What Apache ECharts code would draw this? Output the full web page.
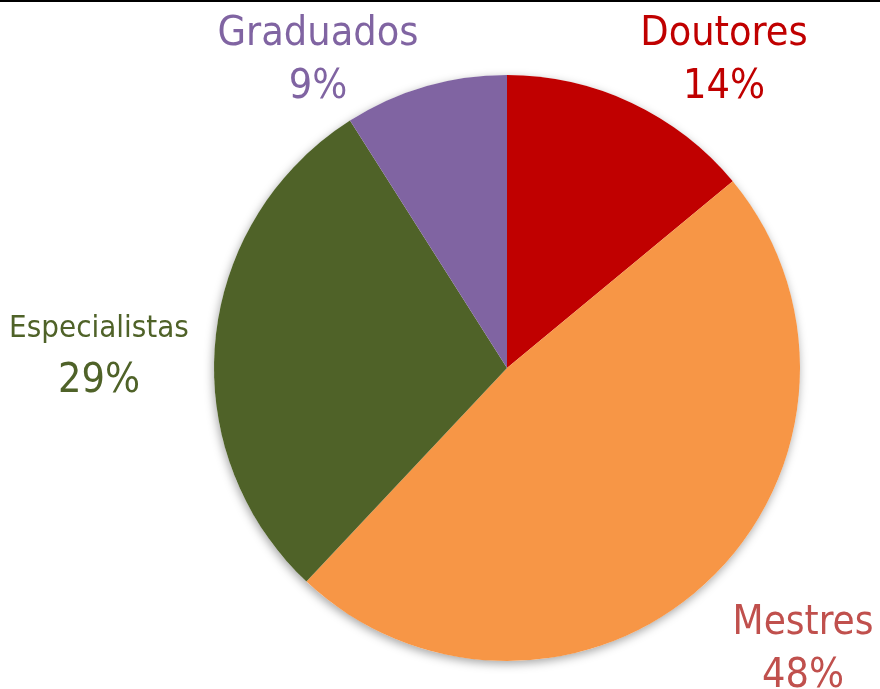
<!DOCTYPE html>
<html>
<head>
    <meta charset="UTF-8">
    <title>Titulação</title>
    <style>
        html, body { margin: 0; padding: 0; background: #fff; }
        #chart { width: 880px; height: 689px; }
    </style>
    <script src="https://cdn.jsdelivr.net/npm/echarts@6/dist/echarts.min.js"></script>
</head>
<body>
<div id="chart"></div>
<script type="text/javascript">
    // dados do gráfico
    var categorias = ['Doutores', 'Mestres', 'Especialistas', 'Graduados'];
    var valores = [14, 48, 29, 9];
    var cores = ['#C00000', '#F79646', '#4F6228', '#8064A2'];
    var coresRotulo = ['#C00000', '#C0504D', '#4F6228', '#8064A2'];

    // posição dos rótulos (centro do texto)
    var posRotulo = [[724, 61], [803, 650], [99, 355], [318, 61]];
    var tamNome = [41, 40, 31, 41];
    var fonte = "'Liberation Sans Narrow', 'Arial Narrow', 'DejaVu Sans Condensed', sans-serif";

    var dados = [];
    for (var i = 0; i < categorias.length; i++) {
        dados.push({
            name: categorias[i],
            value: valores[i],
            itemStyle: { color: cores[i] },
            label: {
                rich: {
                    n: { fontSize: tamNome[i], color: coresRotulo[i], fontFamily: fonte, lineHeight: 53, align: 'center' },
                    p: { fontSize: 41, color: coresRotulo[i], fontFamily: fonte, lineHeight: 53, align: 'center' }
                }
            }
        });
    }

    var myChart = echarts.init(document.getElementById('chart'));

    var option = {
        backgroundColor: '#fff',
        animation: false,
        graphic: [{
            type: 'rect',
            shape: { x: 0, y: 0, width: 880, height: 2 },
            style: { fill: '#000' }
        }],
        series: [{
            // sombra do disco
            type: 'pie',
            silent: true,
            center: [507, 368],
            radius: 293,
            z: 1,
            label: { show: false },
            labelLine: { show: false },
            itemStyle: {
                color: '#fff',
                shadowBlur: 10,
                shadowColor: 'rgba(0,0,0,0.35)',
                shadowOffsetX: -1,
                shadowOffsetY: 3
            },
            data: [{ value: 1, name: '' }]
        }, {
            name: 'Titulação',
            type: 'pie',
            center: [507, 368],
            radius: 293,
            startAngle: 90,
            clockwise: true,
            z: 2,
            itemStyle: { borderWidth: 0 },
            label: {
                show: true,
                position: 'outside',
                overflow: 'none',
                formatter: '{n|{b}}\n{p|{d}%}'
            },
            labelLine: { show: false },
            labelLayout: function (params) {
                var p = posRotulo[params.dataIndex];
                return { x: p[0], y: p[1], align: 'center', verticalAlign: 'middle' };
            },
            data: dados
        }]
    };

    myChart.setOption(option);
</script>
</body>
</html>
